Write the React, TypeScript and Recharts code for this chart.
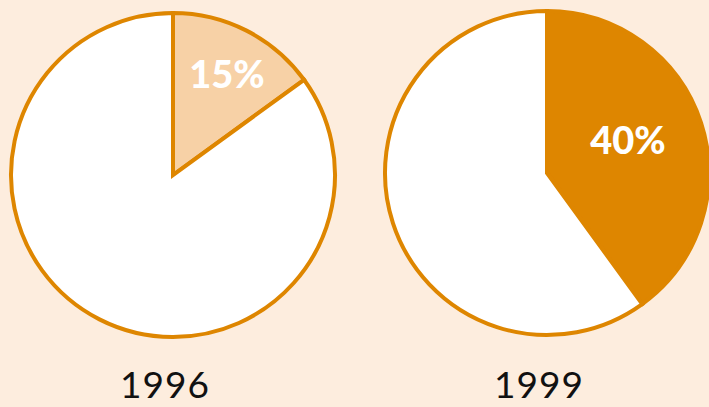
import { PieChart, Pie, Cell } from 'recharts';

const years = ['1996', '1999'];
const shares = [15, 40];
const sliceColors = ['#F7D1A6', '#DE8600'];

const ORANGE = '#DE8600';
const BG = '#FDEDDE';

const pies = years.map((year, i) => ({
  year,
  data: [
    { name: 'share', value: shares[i] },
    { name: 'rest', value: 100 - shares[i] },
  ],
}));

const layout = [
  { cx: 173, cy: 175, r: 162, labelR: 115, labelAngle: 62 },
  { cx: 547, cy: 173, r: 162, labelR: 88, labelAngle: 23 },
];

function makeLabel(idx: number) {
  const { cx, cy, labelR, labelAngle } = layout[idx];
  return (props: any) => {
    if (props.index !== 0) return null;
    const a = (labelAngle * Math.PI) / 180;
    const x = cx + labelR * Math.cos(a);
    const y = cy - labelR * Math.sin(a);
    return (
      <text
        x={x}
        y={y}
        fill="#FFFFFF"
        textAnchor="middle"
        dominantBaseline="central"
        fontFamily="Lato, 'Open Sans', sans-serif"
        fontWeight={900}
        fontSize={38}
      >
        {`${shares[idx]}%`}
      </text>
    );
  };
}

export default function App() {
  return (
    <div style={{ position: 'fixed', left: 0, top: 0, width: 709, height: 407, background: BG, overflow: 'hidden' }}>
      <PieChart width={709} height={407} margin={{ top: 0, right: 0, bottom: 0, left: 0 }}>
        {pies.map((p, i) => (
          <Pie
            key={p.year}
            data={p.data}
            dataKey="value"
            cx={layout[i].cx}
            cy={layout[i].cy}
            outerRadius={layout[i].r}
            startAngle={90}
            endAngle={-270}
            stroke={ORANGE}
            strokeWidth={4}
            label={makeLabel(i)}
            labelLine={false}
            isAnimationActive={false}
          >
            <Cell fill={sliceColors[i]} />
            <Cell fill="#FFFFFF" />
          </Pie>
        ))}
      </PieChart>
      {years.map((y, i) => (
        <div
          key={y}
          style={{
            position: 'absolute',
            left: layout[i].cx - 8 - 80,
            width: 160,
            top: 369,
            textAlign: 'center',
            fontFamily: "Lato, 'Open Sans', sans-serif",
            fontSize: 37,
            lineHeight: '30px',
            color: '#111',
            letterSpacing: 1,
          }}
        >
          {y}
        </div>
      ))}
    </div>
  );
}
